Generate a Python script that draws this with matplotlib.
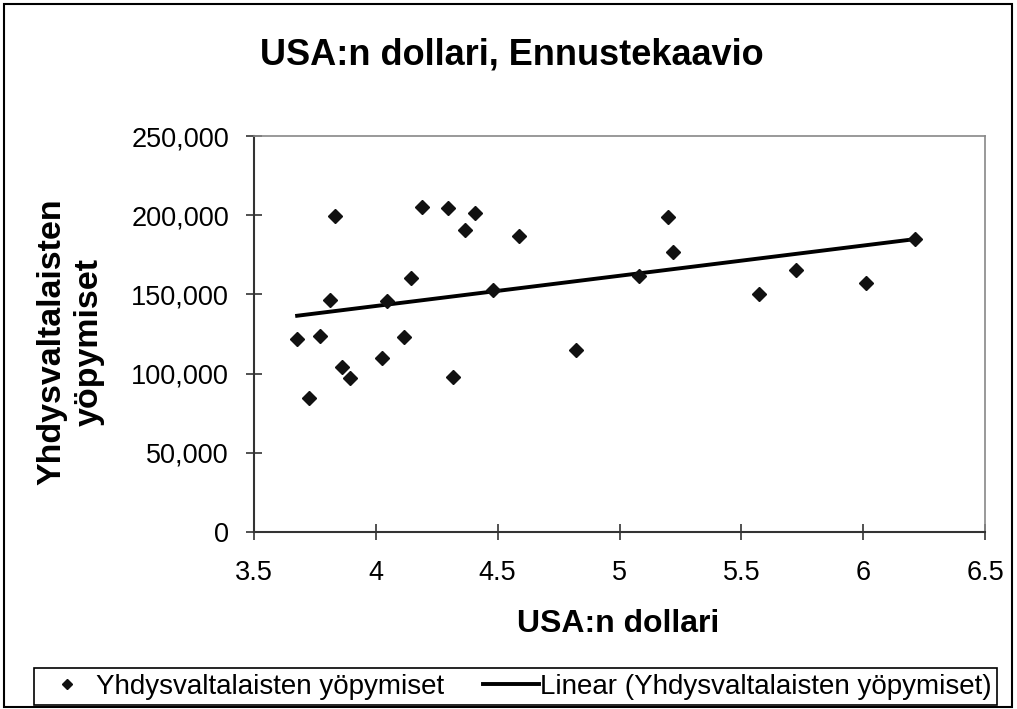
import numpy as np
import matplotlib
matplotlib.use("Agg")
import matplotlib.pyplot as plt
from matplotlib.ticker import FuncFormatter
from matplotlib.patches import Rectangle

plt.rcParams['font.family'] = ['Liberation Sans', 'DejaVu Sans']

# Data
usd_rate = [3.677, 3.725, 3.769, 3.812, 3.832, 3.863, 3.893, 4.026, 4.044, 4.114,
            4.144, 4.191, 4.295, 4.316, 4.367, 4.406, 4.482, 4.589, 4.821,
            5.081, 5.199, 5.221, 5.574, 5.723, 6.013, 6.211]
us_overnights = [122000, 84800, 124000, 146200, 199600, 104400, 97300, 109700, 146000, 123400,
                 160400, 205100, 204400, 97700, 190700, 201300, 152500, 186700, 114800,
                 161400, 198700, 176600, 150000, 165200, 157400, 184800]

title = "USA:n dollari, Ennustekaavio"
x_label = "USA:n dollari"
y_label = "Yhdysvaltalaisten\nyöpymiset"
series_name = "Yhdysvaltalaisten yöpymiset"
trend_name = "Linear (Yhdysvaltalaisten yöpymiset)"
x_ticks = [3.5, 4, 4.5, 5, 5.5, 6, 6.5]
y_ticks = [0, 50000, 100000, 150000, 200000, 250000]

x = np.array(usd_rate)
y = np.array(us_overnights)
slope, intercept = np.polyfit(x, y, 1)
xt = np.array([x.min(), x.max()])
yt = slope * xt + intercept

W, H = 1017, 709
fig = plt.figure(figsize=(W / 100, H / 100), dpi=100)
ax = fig.add_axes([254 / W, 1 - 532 / H, (985 - 254) / W, (532 - 136) / H])

ax.plot(x, y, linestyle='none', marker='D', ms=7, color='#111111', label=series_name, zorder=3)
ax.plot(xt, yt, color='black', lw=2.8, label=trend_name, zorder=2)

ax.set_xlim(3.5, 6.5)
ax.set_ylim(0, 250000)
ax.set_xticks(x_ticks)
ax.set_yticks(y_ticks)
ax.xaxis.set_major_formatter(FuncFormatter(lambda v, p: f"{v:g}"))
ax.yaxis.set_major_formatter(FuncFormatter(lambda v, p: f"{int(v):,}"))

for s in ['top', 'right']:
    ax.spines[s].set_color('#888888')
    ax.spines[s].set_linewidth(1.2)
for s in ['left', 'bottom']:
    ax.spines[s].set_color('#333333')
    ax.spines[s].set_linewidth(1.5)

ax.tick_params(axis='both', direction='inout', length=12, width=1.2, color='#333333', labelsize=19.5)
ax.tick_params(axis='y', pad=12)
ax.tick_params(axis='x', pad=14)

fig.text(512 / W, 1 - 65 / H, title, fontsize=26, fontweight='bold',
         ha='center', va='baseline')
fig.text(618 / W, 1 - 632 / H, x_label, fontsize=23, fontweight='bold',
         ha='center', va='baseline')
fig.text(70.5 / W, 1 - 342 / H, y_label, fontsize=24.5, fontweight='bold',
         ha='center', va='center', rotation=90, multialignment='center', linespacing=1.25)

leg = fig.legend(loc='center', bbox_to_anchor=(515.5 / W, 1 - 686.5 / H), ncol=2, fontsize=20,
                 frameon=True, fancybox=False, edgecolor='black', framealpha=1,
                 handlelength=2.0, handletextpad=0.05, columnspacing=1.4,
                 borderpad=0.2, borderaxespad=0, markerscale=0.7)
leg.get_frame().set_linewidth(1.2)

fig.patches.append(Rectangle((4 / W, 2 / H), (W - 9) / W, (H - 6) / H, transform=fig.transFigure,
                             fill=False, edgecolor='black', linewidth=1.5))

fig.savefig("out.png", dpi=100)
